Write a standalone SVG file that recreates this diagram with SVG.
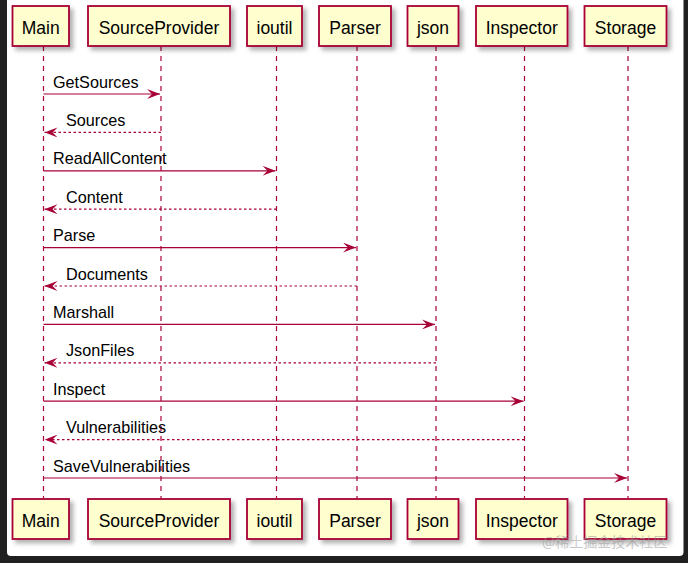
<svg xmlns="http://www.w3.org/2000/svg" width="688" height="563" viewBox="0 0 688 563">
<defs>
<filter id="sh" x="-20%" y="-30%" width="150%" height="180%">
<feDropShadow dx="3.5" dy="3.5" stdDeviation="2" flood-color="#000" flood-opacity="0.3"/>
</filter>
<marker id="ah" viewBox="0 0 13 10" markerUnits="userSpaceOnUse" markerWidth="13" markerHeight="10" refX="13" refY="5" orient="auto">
<path d="M0,0 L13,5 L0,10 L5,5 Z" fill="#A80036"/>
</marker>
<style>
.box{fill:#FEFECE;stroke:#A80036;stroke-width:1.8;filter:url(#sh)}
.pt{font-family:"Liberation Sans",Arial,sans-serif;font-size:17.5px;fill:#000;text-anchor:middle}
.life{stroke:#A80036;stroke-width:1.2;stroke-dasharray:5,5;fill:none}
.msg{stroke:#A80036;stroke-width:1.2;fill:none;marker-end:url(#ah)}
.ret{stroke:#A80036;stroke-width:1.2;fill:none;stroke-dasharray:2.5,2.5;marker-end:url(#ah)}
.lbl{font-family:"Liberation Sans",Arial,sans-serif;font-size:16.2px;fill:#000}
</style>
</defs>
<rect x="0" y="0" width="688" height="563" fill="#202020"/>
<rect x="7" y="-6" width="676.5" height="562" rx="4" fill="#fff"/>

<g id="lifelines">
<line class="life" x1="43.5" y1="46" x2="43.5" y2="499"/>
<line class="life" x1="161" y1="46" x2="161" y2="499"/>
<line class="life" x1="276.5" y1="46" x2="276.5" y2="499"/>
<line class="life" x1="357" y1="46" x2="357" y2="499"/>
<line class="life" x1="436" y1="46" x2="436" y2="499"/>
<line class="life" x1="524.5" y1="46" x2="524.5" y2="499"/>
<line class="life" x1="628" y1="46" x2="628" y2="499"/>
</g>

<g id="connectors">
<line class="msg" x1="43.5" y1="94" x2="160" y2="94"/>
<text class="lbl" x="53" y="87.5">GetSources</text>
<line class="ret" x1="161" y1="132.4" x2="44.5" y2="132.4"/>
<text class="lbl" x="66" y="125.9">Sources</text>
<line class="msg" x1="43.5" y1="170.8" x2="275.5" y2="170.8"/>
<text class="lbl" x="53" y="164.3">ReadAllContent</text>
<line class="ret" x1="276.5" y1="209.2" x2="44.5" y2="209.2"/>
<text class="lbl" x="66" y="202.7">Content</text>
<line class="msg" x1="43.5" y1="247.6" x2="356" y2="247.6"/>
<text class="lbl" x="53" y="241.1">Parse</text>
<line class="ret" x1="357" y1="286" x2="44.5" y2="286"/>
<text class="lbl" x="66" y="279.5">Documents</text>
<line class="msg" x1="43.5" y1="324.4" x2="435" y2="324.4"/>
<text class="lbl" x="53" y="317.9">Marshall</text>
<line class="ret" x1="436" y1="362.8" x2="44.5" y2="362.8"/>
<text class="lbl" x="66" y="356.3">JsonFiles</text>
<line class="msg" x1="43.5" y1="401.2" x2="523.5" y2="401.2"/>
<text class="lbl" x="53" y="394.7">Inspect</text>
<line class="ret" x1="524.5" y1="439.6" x2="44.5" y2="439.6"/>
<text class="lbl" x="66" y="433.1">Vulnerabilities</text>
<line class="msg" x1="43.5" y1="478" x2="627" y2="478"/>
<text class="lbl" x="53" y="471.5">SaveVulnerabilities</text>
</g>

<g id="Main">
<rect class="box" x="12.5" y="6" width="56.5" height="40"/>
<text class="pt" x="40.75" y="33.5">Main</text>
<rect class="box" x="12.5" y="499" width="56.5" height="40"/>
<text class="pt" x="40.75" y="526.5">Main</text>
</g>
<g id="SourceProvider">
<rect class="box" x="88" y="6" width="142" height="40"/>
<text class="pt" x="159" y="33.5">SourceProvider</text>
<rect class="box" x="88" y="499" width="142" height="40"/>
<text class="pt" x="159" y="526.5">SourceProvider</text>
</g>
<g id="ioutil">
<rect class="box" x="247" y="6" width="55" height="40"/>
<text class="pt" x="274.5" y="33.5">ioutil</text>
<rect class="box" x="247" y="499" width="55" height="40"/>
<text class="pt" x="274.5" y="526.5">ioutil</text>
</g>
<g id="Parser">
<rect class="box" x="319" y="6" width="72" height="40"/>
<text class="pt" x="355" y="33.5">Parser</text>
<rect class="box" x="319" y="499" width="72" height="40"/>
<text class="pt" x="355" y="526.5">Parser</text>
</g>
<g id="json">
<rect class="box" x="407.5" y="6" width="51" height="40"/>
<text class="pt" x="433" y="33.5">json</text>
<rect class="box" x="407.5" y="499" width="51" height="40"/>
<text class="pt" x="433" y="526.5">json</text>
</g>
<g id="Inspector">
<rect class="box" x="476" y="6" width="91.5" height="40"/>
<text class="pt" x="521.75" y="33.5">Inspector</text>
<rect class="box" x="476" y="499" width="91.5" height="40"/>
<text class="pt" x="521.75" y="526.5">Inspector</text>
</g>
<g id="Storage">
<rect class="box" x="584.5" y="6" width="82" height="40"/>
<text class="pt" x="625.5" y="33.5">Storage</text>
<rect class="box" x="584.5" y="499" width="82" height="40"/>
<text class="pt" x="625.5" y="526.5">Storage</text>
</g>

<text x="542" y="547" font-family="'Noto Sans CJK SC',sans-serif" font-size="14" fill="#9a9a9a" fill-opacity="0.55">@稀土掘金技术社区</text>
</svg>
